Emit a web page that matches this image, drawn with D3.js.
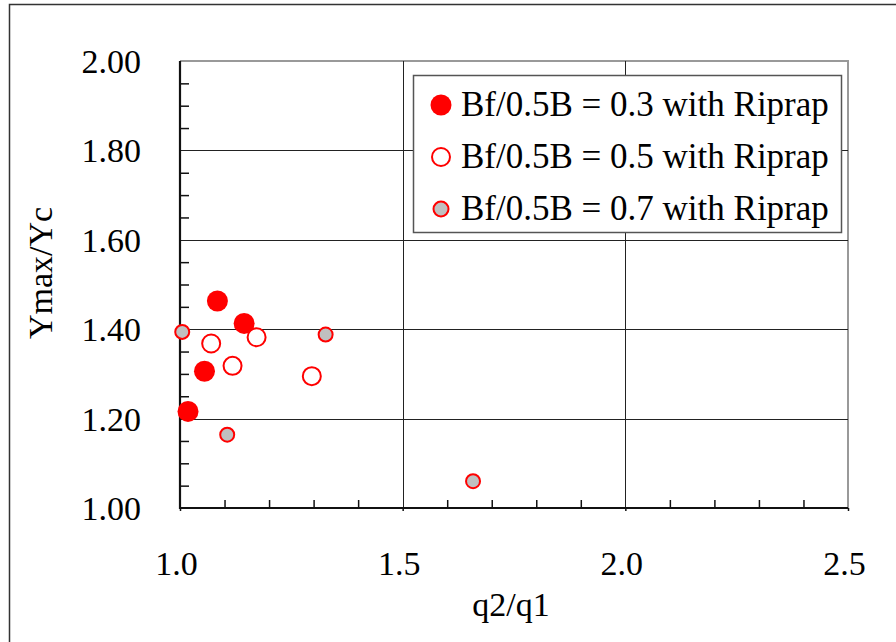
<!DOCTYPE html>
<html>
<head>
<meta charset="utf-8">
<script src="https://cdn.jsdelivr.net/npm/d3@7"></script>
<style>
  html, body { margin: 0; padding: 0; background: #fff; }
  svg { display: block; }
  text { font-family: "Liberation Serif", "Times New Roman", serif; fill: #000; }
</style>
</head>
<body>
<svg id="chart" width="896" height="642"></svg>
<script>
// Series: q2/q1 versus Ymax/Yc for three Bf/0.5B ratios
const seriesNames = [
  "Bf/0.5B = 0.3 with Riprap",
  "Bf/0.5B = 0.5 with Riprap",
  "Bf/0.5B = 0.7 with Riprap"
];
const q03 = [1.084, 1.144, 1.055, 1.018];
const y03 = [1.463, 1.413, 1.306, 1.216];
const q05 = [1.070, 1.172, 1.118, 1.296];
const y05 = [1.368, 1.382, 1.318, 1.295];
const q07 = [1.005, 1.327, 1.106, 1.658];
const y07 = [1.394, 1.388, 1.164, 1.060];

const xTicks = [1.0, 1.5, 2.0, 2.5];
const yTicks = [1.00, 1.20, 1.40, 1.60, 1.80, 2.00];
const xTitle = "q2/q1";
const yTitle = "Ymax/Yc";

const svg = d3.select("#chart");
const plotL = 180, plotR = 848, plotT = 61, plotB = 508;

const x = d3.scaleLinear().domain([1.0, 2.5]).range([plotL, plotR]);
const y = d3.scaleLinear().domain([1.0, 2.0]).range([plotB, plotT]);

// outer frame (runs past the right and bottom edges)
svg.append("rect")
  .attr("x", 9.5).attr("y", 4.5).attr("width", 960).attr("height", 700)
  .attr("fill", "none").attr("stroke", "#333").attr("stroke-width", 1.5);

// plot frame: top and right sides in grey
svg.append("path")
  .attr("d", `M${plotL},${plotT}H${plotR}V${plotB}`)
  .attr("fill", "none").attr("stroke", "#999").attr("stroke-width", 2);

// grid lines
const g = svg.append("g");
g.selectAll("line.hg").data(yTicks.filter(t => t > 1.0 && t < 2.0)).join("line")
  .attr("x1", plotL).attr("x2", plotR)
  .attr("y1", d => Math.round(y(d)) + 0.5).attr("y2", d => Math.round(y(d)) + 0.5)
  .attr("stroke", "#222").attr("stroke-width", 1);
g.selectAll("line.vg").data(xTicks.filter(t => t > 1.0 && t < 2.5)).join("line")
  .attr("y1", plotT).attr("y2", plotB)
  .attr("x1", d => Math.round(x(d)) + 0.5).attr("x2", d => Math.round(x(d)) + 0.5)
  .attr("stroke", "#222").attr("stroke-width", 1);

// minor ticks (inside the plot)
const xMinor = d3.range(1.1, 2.5, 0.1).filter(v => Math.abs(v * 2 - Math.round(v * 2)) > 1e-6);
const yMinor = d3.range(1.05, 2.0, 0.05).filter(v => Math.abs(v * 5 - Math.round(v * 5)) > 1e-6);

const xAxis = d3.axisBottom(x).tickValues(xMinor).tickSize(-8).tickFormat("");
svg.append("g").attr("transform", `translate(0,${plotB})`).call(xAxis)
  .call(s => s.select(".domain").remove())
  .call(s => s.selectAll("line").attr("stroke", "#111").attr("stroke-width", 1.5));

const yAxis = d3.axisLeft(y).tickValues(yMinor).tickSize(-9).tickFormat("");
svg.append("g").attr("transform", `translate(${plotL},0)`).call(yAxis)
  .call(s => s.select(".domain").remove())
  .call(s => s.selectAll("line").attr("stroke", "#111").attr("stroke-width", 1.5));

// major ticks and labels
const xMajor = d3.axisBottom(x).tickValues(xTicks).tickSize(3).tickFormat(d3.format(".1f"));
svg.append("g").attr("transform", `translate(0,${plotB})`).call(xMajor)
  .call(s => s.select(".domain").remove())
  .call(s => s.selectAll("line").attr("stroke", "#111").attr("stroke-width", 1.5))
  .call(s => s.selectAll("text").attr("font-size", 34)
    .attr("font-family", "Liberation Serif").attr("fill", "#000")
    .attr("y", 0).attr("dy", 0).attr("transform", "translate(-4,67)"));

const yMajor = d3.axisLeft(y).tickValues(yTicks).tickSize(0).tickFormat(d3.format(".2f"));
svg.append("g").attr("transform", `translate(${plotL},0)`).call(yMajor)
  .call(s => s.select(".domain").remove())
  .call(s => s.selectAll("text").attr("font-size", 34)
    .attr("font-family", "Liberation Serif").attr("fill", "#000")
    .attr("x", -39).attr("dy", "0.34em"));

// axis lines
svg.append("path")
  .attr("d", `M${plotL},${plotT}V${plotB}H${plotR}`)
  .attr("fill", "none").attr("stroke", "#111").attr("stroke-width", 2.2);

// axis titles
svg.append("text")
  .attr("x", 511).attr("y", 616)
  .attr("text-anchor", "middle").attr("font-size", 34)
  .text(xTitle);
svg.append("text")
  .attr("transform", "translate(52,273) rotate(-90)")
  .attr("text-anchor", "middle").attr("font-size", 34)
  .text(yTitle);

// marker styles per series
const styles = [
  { r: 10.5, fill: "#ff0000", stroke: "none", sw: 0 },
  { r: 9, fill: "#ffffff", stroke: "#ff0000", sw: 2 },
  { r: 7, fill: "#c0c0c0", stroke: "#ff0000", sw: 2 }
];
const series = [
  { q: q05, yv: y05, s: styles[1] },
  { q: q07, yv: y07, s: styles[2] },
  { q: q03, yv: y03, s: styles[0] }
];

series.forEach(({ q, yv, s }) => {
  svg.append("g").selectAll("circle").data(q.map((v, i) => [v, yv[i]])).join("circle")
    .attr("cx", d => x(d[0])).attr("cy", d => y(d[1])).attr("r", s.r)
    .attr("fill", s.fill).attr("stroke", s.stroke).attr("stroke-width", s.sw);
});

// legend
const lg = svg.append("g");
lg.append("rect")
  .attr("x", 413.5).attr("y", 75.5).attr("width", 428).attr("height", 157)
  .attr("fill", "#fff").attr("stroke", "#555").attr("stroke-width", 1.5);
const legendYs = [105, 157, 209];
seriesNames.forEach((name, i) => {
  const s = styles[i];
  lg.append("circle")
    .attr("cx", 441).attr("cy", legendYs[i]).attr("r", i === 2 ? 7.5 : s.r)
    .attr("fill", s.fill).attr("stroke", s.stroke).attr("stroke-width", s.sw);
  lg.append("text")
    .attr("x", 461).attr("y", legendYs[i]).attr("dy", "0.32em")
    .attr("font-size", 35)
    .text(name);
});
</script>
</body>
</html>
